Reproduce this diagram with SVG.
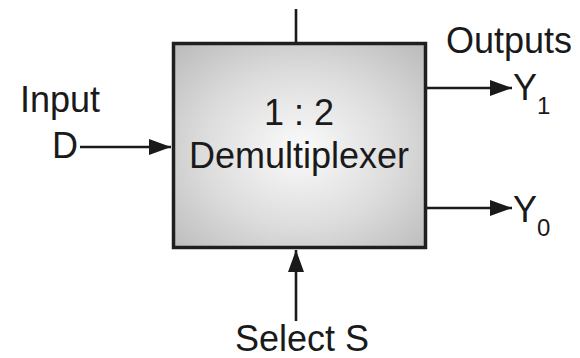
<svg xmlns="http://www.w3.org/2000/svg" width="580" height="358" viewBox="0 0 580 358">
  <style>
    .lbl { font-family: "Liberation Sans", Arial, sans-serif; font-size: 36px; fill: #1a1a1a; }
    .sub { font-size: 24px; }
    .wire { stroke: #1a1a1a; stroke-width: 2.6; fill: none; }
  </style>
  <defs>
    <radialGradient id="boxFill" cx="0.5" cy="0.52" r="0.7">
      <stop offset="0" stop-color="#fbfbfb"/>
      <stop offset="0.55" stop-color="#dcdcdc"/>
      <stop offset="1" stop-color="#bcbcbc"/>
    </radialGradient>
    <marker id="arrow" viewBox="0 0 22 16" refX="22" refY="8" markerWidth="22" markerHeight="16" markerUnits="userSpaceOnUse" orient="auto">
      <path d="M0,0 L22,8 L0,16 Z" fill="#1a1a1a"/>
    </marker>
  </defs>

  <!-- demultiplexer block -->
  <g id="demux">
    <rect x="173.5" y="43.5" width="252" height="204" fill="url(#boxFill)" stroke="#1f1f1f" stroke-width="3.5"/>
    <text class="lbl" x="299" y="125" text-anchor="middle">1 : 2</text>
    <text class="lbl" x="299" y="168" text-anchor="middle">Demultiplexer</text>
  </g>

  <g id="input">
    <text class="lbl" x="20" y="112">Input</text>
    <text class="lbl" x="52" y="158">D</text>
  </g>

  <g id="outputs">
    <text class="lbl" x="446" y="53">Outputs</text>
    <text class="lbl" x="513" y="100">Y<tspan class="sub" dy="14">1</tspan></text>
    <text class="lbl" x="513" y="222">Y<tspan class="sub" dy="14">0</tspan></text>
  </g>

  <g id="select">
    <text class="lbl" x="235" y="351">Select S</text>
  </g>

  <!-- connectors -->
  <g id="connectors">
    <line class="wire" x1="296" y1="9" x2="296" y2="42"/>
    <line class="wire" x1="80" y1="147" x2="171" y2="147" marker-end="url(#arrow)"/>
    <line class="wire" x1="427" y1="88" x2="512" y2="88" marker-end="url(#arrow)"/>
    <line class="wire" x1="427" y1="208" x2="512" y2="208" marker-end="url(#arrow)"/>
    <line class="wire" x1="296" y1="321" x2="296" y2="250" marker-end="url(#arrow)"/>
  </g>
</svg>
